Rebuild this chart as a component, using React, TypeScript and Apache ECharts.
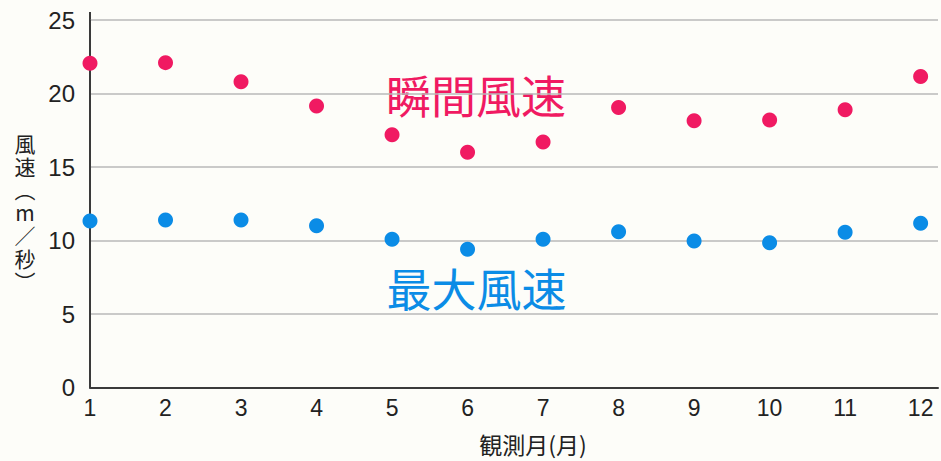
import React, { useEffect, useRef } from "react";
import * as echarts from "echarts";

const months = [1, 2, 3, 4, 5, 6, 7, 8, 9, 10, 11, 12];
const gustSpeed = [22.05, 22.1, 20.8, 19.15, 17.2, 16.0, 16.7, 19.05, 18.15, 18.2, 18.9, 21.15];
const maxSpeed = [11.33, 11.4, 11.4, 11.0, 10.08, 9.4, 10.08, 10.6, 9.97, 9.85, 10.56, 11.17];
const gustLabel = "瞬間風速";
const maxLabel = "最大風速";
const yAxisNameChars = ["風", "速", "︵", "m", "／", "秒", "︶"];
const xAxisName = "観測月(月)";

const PINK = "#f01a62";
const BLUE = "#0b8ce6";
const TEXT = "#222";
const NUM_FONT = "'Liberation Sans', 'Noto Sans CJK JP', sans-serif";
const CJK_FONT = "'Noto Sans CJK JP', sans-serif";

export default function App() {
  const ref = useRef<HTMLDivElement>(null);
  useEffect(() => {
    if (!ref.current) return;
    const chart = echarts.init(ref.current, undefined, { renderer: "svg" });
    const top = 142.5;
    const pitch = 23.1;
    const nameGraphics = yAxisNameChars.map((ch, i) => ({
      type: "text",
      x: 25,
      y: top + i * pitch,
      style: {
        text: ch,
        fill: TEXT,
        fontSize: 21,
        lineHeight: 22,
        fontFamily: CJK_FONT,
        align: "center",
        verticalAlign: "middle",
      },
    }));
    chart.setOption({
      animation: false,
      backgroundColor: "#fdfdf9",
      grid: { left: 90, right: 0, top: 20, bottom: 73.5, containLabel: false },
      xAxis: {
        type: "value",
        min: 1,
        max: 12.23,
        interval: 1,
        axisLine: { show: true, onZero: false, lineStyle: { color: "#3a3a3a", width: 2 } },
        axisTick: { show: false },
        splitLine: { show: false },
        axisLabel: {
          margin: 9,
          fontSize: 23,
          color: TEXT,
          fontFamily: NUM_FONT,
          formatter: (v: number) => (Number.isInteger(v) ? String(v) : ""),
        },
      },
      yAxis: {
        type: "value",
        min: 0,
        max: 25,
        interval: 5,
        axisLine: { show: true, lineStyle: { color: "#3a3a3a", width: 2 } },
        axisTick: { show: false },
        splitLine: { show: true, lineStyle: { color: "#b8b8b8", width: 1.5 } },
        axisLabel: { margin: 15, fontSize: 24, color: TEXT, fontFamily: NUM_FONT },
      },
      graphic: [
        {
          type: "line",
          shape: { x1: 90, y1: 12, x2: 90, y2: 21 },
          style: { stroke: "#3a3a3a", lineWidth: 2 },
        },
        {
          type: "text",
          x: 476,
          y: 94,
          style: {
            text: gustLabel,
            fill: PINK,
            fontSize: 45,
            fontFamily: CJK_FONT,
            align: "center",
            verticalAlign: "middle",
          },
        },
        {
          type: "text",
          x: 476.5,
          y: 287.5,
          style: {
            text: maxLabel,
            fill: BLUE,
            fontSize: 45,
            fontFamily: CJK_FONT,
            align: "center",
            verticalAlign: "middle",
          },
        },
        ...nameGraphics,
        {
          type: "text",
          x: 533,
          y: 444,
          style: {
            text: xAxisName,
            fill: TEXT,
            fontSize: 23,
            fontFamily: CJK_FONT,
            align: "center",
            verticalAlign: "middle",
          },
        },
      ],
      series: [
        {
          name: gustLabel,
          type: "scatter",
          symbolSize: 15,
          itemStyle: { color: PINK, opacity: 1 },
          data: months.map((m, i) => [m, gustSpeed[i]]),
        },
        {
          name: maxLabel,
          type: "scatter",
          symbolSize: 15,
          itemStyle: { color: BLUE, opacity: 1 },
          data: months.map((m, i) => [m, maxSpeed[i]]),
        },
      ],
    });
    return () => chart.dispose();
  }, []);
  return (
    <div
      ref={ref}
      style={{ position: "fixed", left: 0, top: 0, width: 941, height: 461 }}
    />
  );
}
